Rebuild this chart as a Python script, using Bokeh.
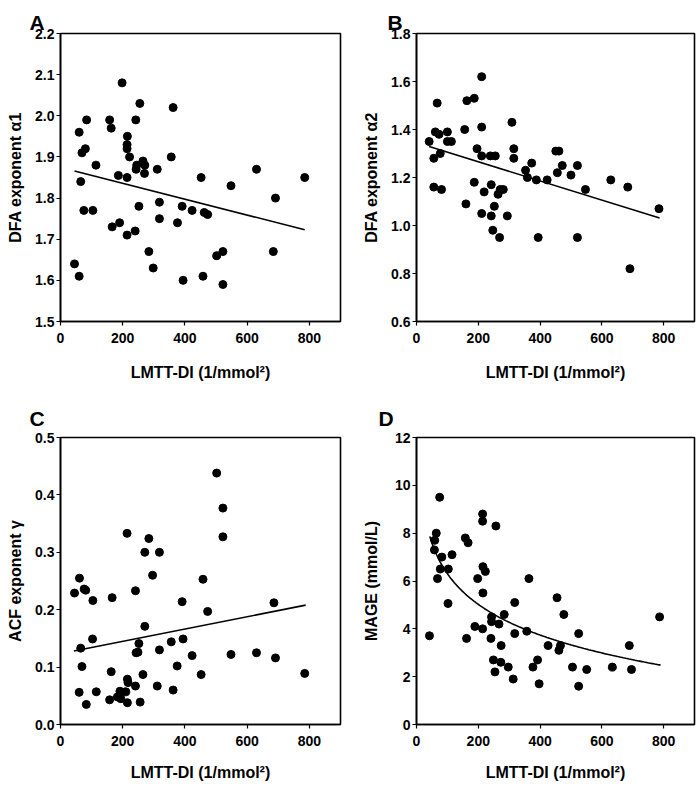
import numpy as np
from bokeh.plotting import figure
from bokeh.layouts import column, row
from bokeh.models import Range1d, FixedTicker, PrintfTickFormatter
from bokeh.embed import file_html
from bokeh.resources import INLINE

FONT = "Liberation Sans"

# ---------------- data ----------------
x_ticks = [0, 200, 400, 600, 800]
x_label = "LMTT-DI (1/mmol²)"

# Panel A: DFA exponent alpha1
a_x = [45, 60, 60, 65, 69, 80, 84, 75, 104, 114, 158, 163, 186, 166, 190, 198, 215, 214, 214, 214,
       222, 214, 242, 255, 245, 243, 265, 271, 270, 252, 240, 284, 298, 311, 318, 318, 362, 356, 376, 391,
       394, 423, 452, 462, 473, 458, 502, 522, 522, 548, 630, 691, 684, 785]
a_y = [1.64, 1.61, 1.96, 1.84, 1.91, 1.92, 1.99, 1.77, 1.77, 1.88, 1.99, 1.97, 1.855, 1.73, 1.74, 2.08, 1.95, 1.93, 1.92, 1.85,
       1.90, 1.71, 1.99, 2.03, 1.88, 1.87, 1.89, 1.88, 1.86, 1.78, 1.72, 1.67, 1.63, 1.87, 1.79, 1.75, 2.02, 1.90, 1.74, 1.78,
       1.60, 1.77, 1.85, 1.765, 1.76, 1.61, 1.66, 1.67, 1.59, 1.83, 1.87, 1.80, 1.67, 1.85]
a_fit_x = [45, 785]
a_fit_y = [1.866, 1.723]
a_yticks = [1.5, 1.6, 1.7, 1.8, 1.9, 2.0, 2.1, 2.2]

# Panel B: DFA exponent alpha2
b_x = [41, 56, 56, 61, 67, 73, 77, 81, 100, 100, 113, 156, 163, 187, 160, 187, 196, 211, 211, 211,
       211, 219, 239, 255, 242, 242, 252, 247, 264, 271, 281, 269, 294, 309, 315, 315, 353, 359, 373, 388,
       394, 423, 451, 461, 456, 472, 500, 521, 521, 547, 629, 684, 691, 785]
b_y = [1.35, 1.28, 1.16, 1.39, 1.51, 1.38, 1.30, 1.15, 1.39, 1.35, 1.35, 1.40, 1.52, 1.53, 1.09, 1.18, 1.32, 1.62, 1.41, 1.29,
       1.05, 1.14, 1.29, 1.29, 1.17, 1.04, 1.08, 0.98, 1.13, 1.15, 1.15, 0.95, 1.04, 1.43, 1.32, 1.28, 1.23, 1.20, 1.26, 1.19,
       0.95, 1.19, 1.31, 1.31, 1.22, 1.25, 1.21, 1.25, 0.95, 1.15, 1.19, 1.16, 0.82, 1.07]
b_fit_x = [41, 787]
b_fit_y = [1.329, 1.031]
b_yticks = [0.6, 0.8, 1.0, 1.2, 1.4, 1.6, 1.8]

# Panel C: ACF exponent gamma
c_x = [45, 61, 65, 69, 60, 76, 81, 83, 104, 103, 115, 166, 163, 158, 214, 241, 241, 243, 249, 252,
       256, 265, 271, 271, 284, 296, 311, 318, 318, 356, 362, 375, 391, 394, 423, 452, 458, 473, 502, 522,
       522, 548, 630, 691, 686, 785, 215, 217, 191, 210, 183, 194, 215]
c_y = [0.229, 0.255, 0.133, 0.101, 0.056, 0.236, 0.234, 0.035, 0.216, 0.149, 0.057, 0.221, 0.092, 0.043, 0.333, 0.233, 0.067, 0.125, 0.126, 0.141,
       0.039, 0.087, 0.171, 0.300, 0.324, 0.260, 0.067, 0.130, 0.300, 0.144, 0.060, 0.102, 0.214, 0.149, 0.120, 0.087, 0.253, 0.197, 0.438, 0.377,
       0.327, 0.122, 0.125, 0.116, 0.212, 0.089, 0.079, 0.073, 0.058, 0.057, 0.048, 0.045, 0.038]
c_fit_x = [43, 788]
c_fit_y = [0.128, 0.208]
c_yticks = [0.0, 0.1, 0.2, 0.3, 0.4, 0.5]

# Panel D: MAGE
d_x = [42, 59, 64, 58, 68, 75, 82, 77, 103, 102, 115, 158, 167, 162, 189, 198, 214, 214, 215, 223,
       215, 214, 257, 243, 243, 241, 249, 254, 267, 274, 273, 284, 297, 313, 318, 318, 357, 364, 377, 392,
       397, 426, 455, 461, 466, 477, 505, 525, 525, 551, 634, 689, 696, 787]
d_y = [3.71, 7.7, 8.0, 7.3, 6.1, 9.5, 7.0, 6.5, 6.5, 5.06, 7.1, 7.8, 7.6, 3.6, 4.1, 6.1, 8.8, 8.5, 6.6, 6.4,
       5.5, 4.0, 8.3, 4.5, 4.3, 3.6, 2.7, 2.2, 4.2, 3.3, 2.6, 4.6, 2.4, 1.9, 5.1, 3.8, 3.9, 6.1, 2.4, 2.7,
       1.7, 3.3, 5.3, 3.1, 3.3, 4.6, 2.4, 3.8, 1.6, 2.3, 2.4, 3.3, 2.3, 4.5]
# logarithmic fit y = a + b*ln(x), coefficients
d_fit_a = 14.82
d_fit_b = -1.849
d_fit_range = [43, 790]
d_yticks = [0, 2, 4, 6, 8, 10, 12]


def panel(xs, ys, fx, fy, yr, yticks, yfmt, ylabel, letter, letter_off, letter_standoff,
          fw, fh, bl, br, bt, bb, ylab_standoff, xlab_standoff):
    p = figure(frame_width=fw, frame_height=fh,
               x_range=Range1d(0, 900), y_range=Range1d(*yr),
               output_backend="svg", toolbar_location=None,
               min_border_left=bl, min_border_right=br,
               min_border_top=bt, min_border_bottom=bb,
               background_fill_color="white", border_fill_color="white")
    p.xgrid.visible = False
    p.ygrid.visible = False
    p.outline_line_color = "black"
    p.outline_line_width = 1.6
    for ax in (p.xaxis[0], p.yaxis[0]):
        ax.axis_line_color = "black"
        ax.axis_line_width = 1.6
        ax.major_tick_line_color = "black"
        ax.major_tick_line_width = 1.2
        ax.major_tick_in = 0
        ax.major_tick_out = 4
        ax.minor_tick_line_color = None
        ax.major_label_text_font = FONT
        ax.major_label_text_font_style = "bold"
        ax.major_label_text_font_size = "14px"
        ax.major_label_text_color = "black"
        ax.axis_label_text_font = FONT
        ax.axis_label_text_font_style = "bold"
        ax.axis_label_text_font_size = "16px"
        ax.axis_label_text_color = "black"
    p.xaxis.ticker = FixedTicker(ticks=x_ticks)
    p.xaxis.major_label_standoff = 7
    p.xaxis.axis_label = x_label
    p.xaxis.axis_label_standoff = xlab_standoff
    p.yaxis.ticker = FixedTicker(ticks=yticks)
    p.yaxis.formatter = PrintfTickFormatter(format=yfmt)
    p.yaxis.major_label_standoff = 2
    p.yaxis.axis_label = ylabel
    p.yaxis.axis_label_standoff = ylab_standoff

    p.title.text = letter
    p.title.text_font = FONT
    p.title.text_font_style = "bold"
    p.title.text_font_size = "21px"
    p.title.text_color = "black"
    p.title.align = "left"
    p.title.offset = letter_off
    p.title.standoff = letter_standoff

    p.scatter(xs, ys, size=8, color="black")
    p.line(fx, fy, line_width=1.6, color="black")
    return p


pA = panel(a_x, a_y, a_fit_x, a_fit_y, (1.5, 2.2), a_yticks, "%.1f",
           "DFA exponent α1", "A", -31, 0,
           280, 288, 60, 16, 33, 69, 8, 18)
pB = panel(b_x, b_y, b_fit_x, b_fit_y, (0.6, 1.8), b_yticks, "%.1f",
           "DFA exponent α2", "B", -29, 0,
           278, 288, 60, 3, 33, 69, 8, 18)

d_curve_x = np.linspace(d_fit_range[0], d_fit_range[1], 200)
d_curve_y = d_fit_a + d_fit_b * np.log(d_curve_x)

pC = panel(c_x, c_y, c_fit_x, c_fit_y, (0.0, 0.5), c_yticks, "%.1f",
           "ACF exponent γ", "C", -31, 15,
           280, 287, 60, 16, 47, 62, 8, 15)
pD = panel(d_x, d_y, d_curve_x, d_curve_y, (0, 12), d_yticks, "%d",
           "MAGE (mmol/L)", "D", -38, 15,
           278, 287, 60, 3, 47, 62, 12, 15)

layout = column(row(pA, pB), row(pC, pD))

with open("out.html", "w") as f:
    f.write(file_html(layout, INLINE))
